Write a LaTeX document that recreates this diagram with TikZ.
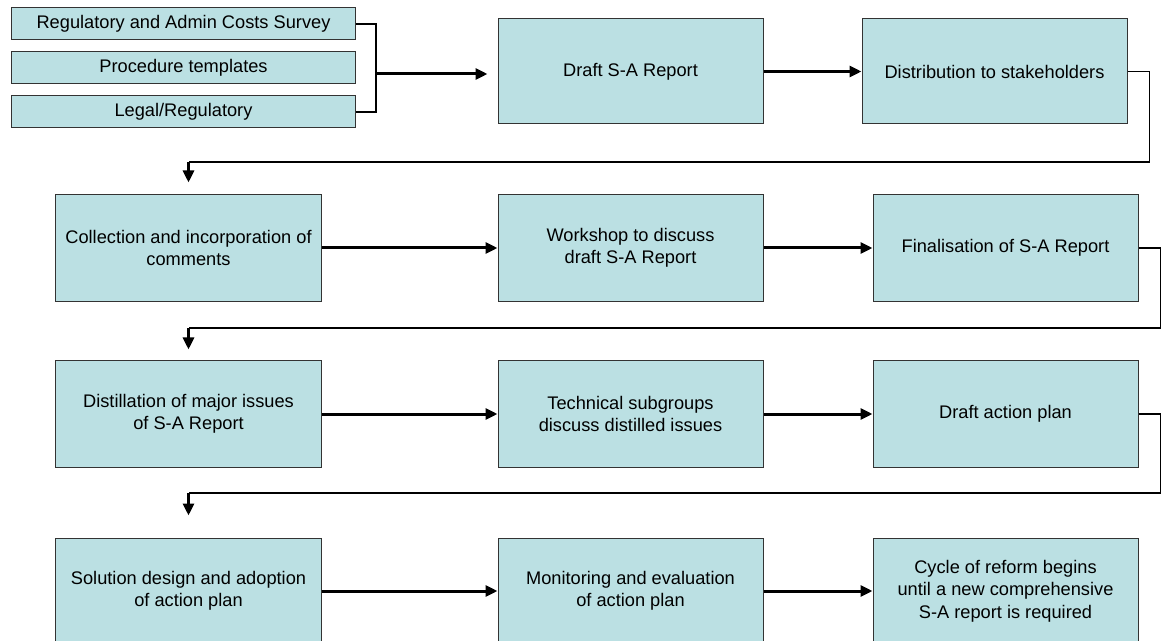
\documentclass[tikz,border=0pt]{standalone}
\usepackage{fontspec}
\setmainfont{Liberation Sans}
\usetikzlibrary{arrows.meta}
\definecolor{boxfill}{RGB}{187,224,227}
\definecolor{boxline}{RGB}{51,51,51}
\begin{document}
\begin{tikzpicture}[x=1bp,y=-1bp,
  stepbox/.style={draw=boxline,fill=boxfill,line width=1bp,inner sep=0pt,
    minimum width=265bp,minimum height=106bp,align=center,
    font=\fontsize{18.3}{22.5}\selectfont},
  inbox/.style={stepbox,minimum width=343bp,minimum height=32bp},
  flow/.style={line width=3bp,-{Triangle[length=12bp,width=11bp]}},
  back/.style={line width=1.2bp}]
\useasboundingbox (0,0) rectangle (1168,641);
% inputs
\node[inbox] (survey) at (183.5,24) {Regulatory and Admin Costs Survey};
\node[inbox] (templ) at (183.5,68) {Procedure templates};
\node[inbox] (legal) at (183.5,112) {Legal/Regulatory};
% row 1
\node[stepbox,minimum height=105bp] (draft) at (630.5,71.5) {Draft S-A Report};
\node[stepbox,minimum height=105bp] (distr) at (994.5,71.5) {Distribution to stakeholders};
% row 2
\node[stepbox] (collect) at (188.5,248) {Collection and incorporation of\\comments};
\node[stepbox] (workshop) at (630.5,248) {Workshop to discuss\\draft S-A Report};
\node[stepbox] (final) at (1005.5,248) {Finalisation of S-A Report};
% row 3
\node[stepbox] (distil) at (188.5,414) {Distillation of major issues\\of S-A Report};
\node[stepbox] (subgrp) at (630.5,414) {Technical subgroups\\discuss distilled issues};
\node[stepbox] (plan) at (1005.5,414) {Draft action plan};
% row 4
\node[stepbox] (design) at (188.5,591) {Solution design and adoption\\of action plan};
\node[stepbox] (monitor) at (630.5,591) {Monitoring and evaluation\\of action plan};
\node[stepbox] (cycle) at (1005.5,591) {Cycle of reform begins\\until a new comprehensive\\S-A report is required};
% bracket of inputs
\coordinate (join) at (376,74);
\draw[back] (survey.east) -| (join) |- (legal.east);
\draw[flow,shorten >=10bp] (join) -- (join -| draft.west);
\draw[flow] (draft) -- (distr);
\draw[flow] (collect) -- (workshop);
\draw[flow] (workshop) -- (final);
\draw[flow] (distil) -- (subgrp);
\draw[flow] (subgrp) -- (plan);
\draw[flow] (design) -- (monitor);
\draw[flow] (monitor) -- (cycle);
% returns to next row
\coordinate (turn1) at (188.5,162);
\coordinate (turn2) at (188.5,328);
\coordinate (turn3) at (188.5,493);
\draw[back] (distr.east) -- ++(22,0) |- (turn1);
\draw[back] (final.east) -- ++(22,0) |- (turn2);
\draw[back] (plan.east) -- ++(22,0) |- (turn3);
\draw[flow,shorten >=12bp] (turn1) -- (collect.north);
\draw[flow,shorten >=11bp] (turn2) -- (distil.north);
\draw[flow,shorten >=22bp] (turn3) -- (design.north);
\end{tikzpicture}
\end{document}
